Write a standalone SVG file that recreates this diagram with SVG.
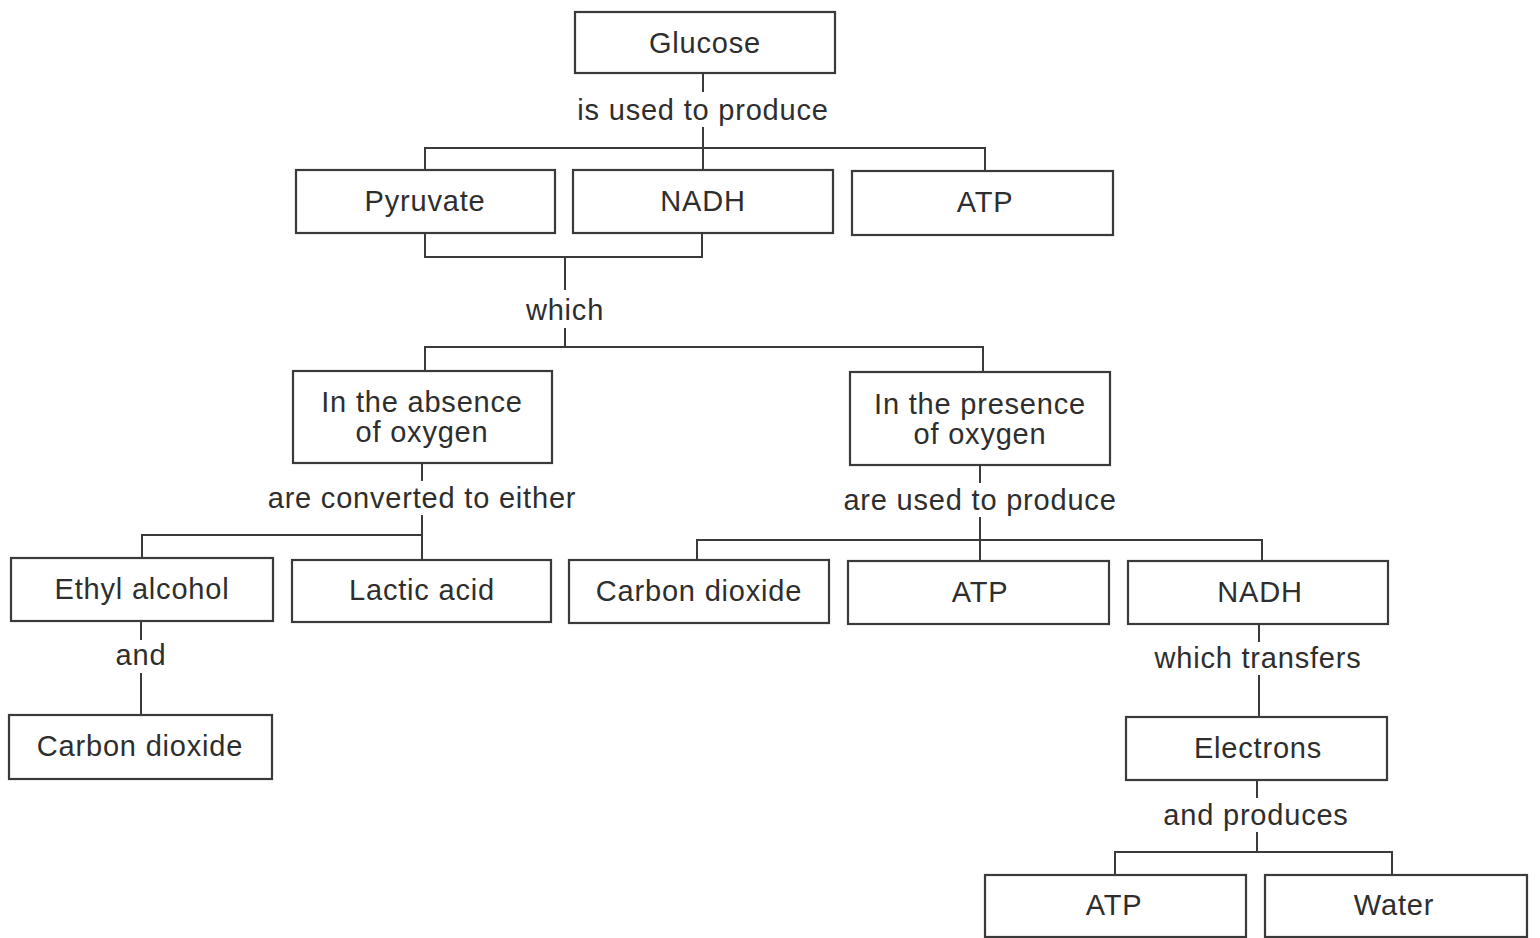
<svg xmlns="http://www.w3.org/2000/svg" width="1540" height="938" viewBox="0 0 1540 938">
<style>
.box{fill:#fff;stroke:#3a3a3a;stroke-width:2.2}
.t{font-family:"Liberation Sans",Arial,sans-serif;font-size:29px;fill:#2e2e2e;text-anchor:middle;letter-spacing:0.8px}
.l{font-family:"Liberation Sans",Arial,sans-serif;font-size:29px;fill:#2e2e2e;text-anchor:middle;letter-spacing:0.8px}
.c{fill:none;stroke:#3a3a3a;stroke-width:2}
</style>
<rect width="1540" height="938" fill="#fff"/>
<g id="connectors">
<path class="c" d="M703 73V92M703 127V148M425 170V148H985V170M703 148V170"/>
<path class="c" d="M425 233V257H702V233M565 257V290M565 328V347M425 371V347H983V372"/>
<path class="c" d="M422 463V481M422 515V535M142 558V535H422V560"/>
<path class="c" d="M141 621V640M141 673V715"/>
<path class="c" d="M980 465V483M980 517V540M697 560V540H1262V561M980 540V561"/>
<path class="c" d="M1259 624V642M1259 675V717"/>
<path class="c" d="M1257 780V798M1257 832V852M1115 875V852H1392V875"/>
</g>
<g id="labels">
<text class="l" x="703" y="120">is used to produce</text>
<text class="l" x="565" y="320">which</text>
<text class="l" x="422" y="508">are converted to either</text>
<text class="l" x="141" y="665">and</text>
<text class="l" x="980" y="510">are used to produce</text>
<text class="l" x="1258" y="668">which transfers</text>
<text class="l" x="1256" y="825">and produces</text>
</g>
<g id="glucose"><rect class="box" x="575" y="12" width="260" height="61"/><text class="t" x="705" y="53">Glucose</text></g>
<g id="pyruvate"><rect class="box" x="296" y="170" width="259" height="63"/><text class="t" x="425" y="211">Pyruvate</text></g>
<g id="nadh1"><rect class="box" x="573" y="170" width="260" height="63"/><text class="t" x="703" y="211">NADH</text></g>
<g id="atp1"><rect class="box" x="852" y="171" width="261" height="64"/><text class="t" x="985" y="212">ATP</text></g>
<g id="absence"><rect class="box" x="293" y="371" width="259" height="92"/><text class="t" x="422" y="412">In the absence</text><text class="t" x="422" y="442">of oxygen</text></g>
<g id="presence"><rect class="box" x="850" y="372" width="260" height="93"/><text class="t" x="980" y="414">In the presence</text><text class="t" x="980" y="444">of oxygen</text></g>
<g id="ethyl"><rect class="box" x="11" y="558" width="262" height="63"/><text class="t" x="142" y="599">Ethyl alcohol</text></g>
<g id="lactic"><rect class="box" x="292" y="560" width="259" height="62"/><text class="t" x="422" y="600">Lactic acid</text></g>
<g id="co2a"><rect class="box" x="9" y="715" width="263" height="64"/><text class="t" x="140" y="756">Carbon dioxide</text></g>
<g id="co2b"><rect class="box" x="569" y="560" width="260" height="63"/><text class="t" x="699" y="601">Carbon dioxide</text></g>
<g id="atp2"><rect class="box" x="848" y="561" width="261" height="63"/><text class="t" x="980" y="602">ATP</text></g>
<g id="nadh2"><rect class="box" x="1128" y="561" width="260" height="63"/><text class="t" x="1260" y="602">NADH</text></g>
<g id="electrons"><rect class="box" x="1126" y="717" width="261" height="63"/><text class="t" x="1258" y="758">Electrons</text></g>
<g id="atp3"><rect class="box" x="985" y="875" width="261" height="62"/><text class="t" x="1114" y="915">ATP</text></g>
<g id="water"><rect class="box" x="1265" y="875" width="262" height="62"/><text class="t" x="1394" y="915">Water</text></g>
</svg>
